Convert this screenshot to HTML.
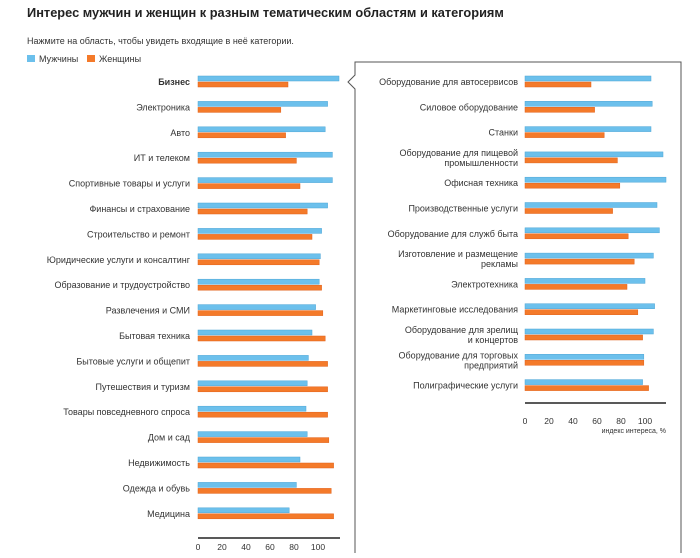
<!DOCTYPE html>
<html><head><meta charset="utf-8"><style>
body{margin:0;background:#fff;width:700px;height:553px;overflow:hidden;font-family:"Liberation Sans","DejaVu Sans",sans-serif}
</style></head><body>
<svg width="700" height="553" xmlns="http://www.w3.org/2000/svg" font-family="Liberation Sans, DejaVu Sans, sans-serif">
<text x="27" y="17" font-size="12.8" font-weight="bold" fill="#222">Интерес мужчин и женщин к разным тематическим областям и категориям</text>
<text x="27" y="44" font-size="9" fill="#333">Нажмите на область, чтобы увидеть входящие в неё категории.</text>
<rect x="27" y="55" width="8" height="7" fill="#6cc0ec"/>
<text x="39" y="62" font-size="9" fill="#333">Мужчины</text>
<rect x="87" y="55" width="8" height="7" fill="#f47a2a"/>
<text x="99" y="62" font-size="9" fill="#333">Женщины</text>
<path d="M355,553 V89 L348,82 L355,75 V62 H681 V553" fill="none" stroke="#555" stroke-width="1"/>
<g id="left"></g><g id="right"></g>
<line x1="198" y1="538" x2="340" y2="538" stroke="#222" stroke-width="1.5"/>
<line x1="525" y1="403" x2="666" y2="403" stroke="#222" stroke-width="1.5"/>
<g font-size="8.5" fill="#333" text-anchor="middle">
<text x="198" y="550">0</text><text x="222" y="550">20</text><text x="246" y="550">40</text><text x="270" y="550">60</text><text x="294" y="550">80</text><text x="318" y="550">100</text>
<text x="525" y="424">0</text><text x="549" y="424">20</text><text x="573" y="424">40</text><text x="597" y="424">60</text><text x="621" y="424">80</text><text x="645" y="424">100</text>
</g>
<text x="666" y="433" font-size="7" fill="#333" text-anchor="end">индекс интереса, %</text>
</svg>
<script>
var L=[["Бизнес",117.5,75],["Электроника",108,69],["Авто",106,73],["ИТ и телеком",112,82],["Спортивные товары и услуги",112,85],["Финансы и страхование",108,91],["Строительство и ремонт",103,95],["Юридические услуги и консалтинг",102,101],["Образование и трудоустройство",101,103],["Развлечения и СМИ",98,104],["Бытовая техника",95,106],["Бытовые услуги и общепит",92,108],["Путешествия и туризм",91,108],["Товары повседневного спроса",90,108],["Дом и сад",91,109],["Недвижимость",85,113],["Одежда и обувь",82,111],["Медицина",76,113]];
var R=[["Оборудование для автосервисов",105,55],["Силовое оборудование",106,58],["Станки",105,66],["Оборудование для пищевой|промышленности",115,77],["Офисная техника",117.5,79],["Производственные услуги",110,73],["Оборудование для служб быта",112,86],["Изготовление и размещение|рекламы",107,91],["Электротехника",100,85],["Маркетинговые исследования",108,94],["Оборудование для зрелищ|и концертов",107,98],["Оборудование для торговых|предприятий",99,99],["Полиграфические услуги",98,103]];
var NS="http://www.w3.org/2000/svg";
function el(p,t,a,txt){var e=document.createElementNS(NS,t);for(var k in a)e.setAttribute(k,a[k]);if(txt)e.textContent=txt;p.appendChild(e);return e;}
function draw(g,data,x0,y0,step,tx){data.forEach(function(d,i){var y=y0+i*step;
el(g,"rect",{x:x0,y:y-6,width:d[1]*1.2,height:5,fill:"#6cc0ec",stroke:"#4fa6d6","stroke-width":0.5});
el(g,"rect",{x:x0,y:y,width:d[2]*1.2,height:5,fill:"#f47a2a",stroke:"#e0611a","stroke-width":0.5});
var lines=d[0].split("|");
lines.forEach(function(s,j){el(g,"text",{x:tx,y:y+3-(lines.length-1)*5+j*10,"font-size":"9",fill:"#333","text-anchor":"end","font-weight":(g.id=="left"&&i==0)?"bold":"normal"},s);});
});}
draw(document.getElementById("left"),L,198,82,25.4,190);
draw(document.getElementById("right"),R,525,82,25.3,518);
</script>
</body></html>
